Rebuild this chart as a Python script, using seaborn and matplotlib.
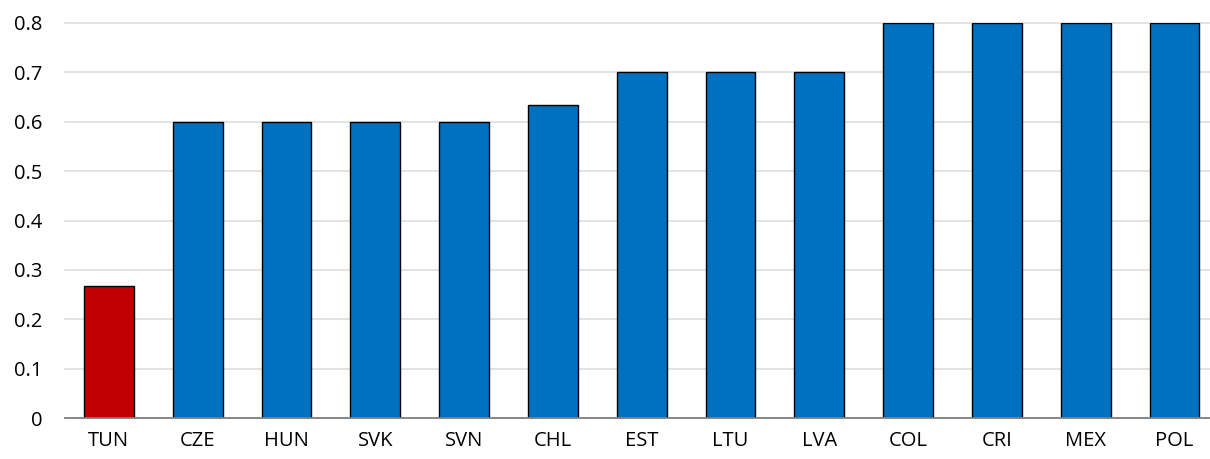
import pandas as pd
import seaborn as sns
import matplotlib.pyplot as plt

countries = ["TUN", "CZE", "HUN", "SVK", "SVN", "CHL", "EST", "LTU", "LVA",
             "COL", "CRI", "MEX", "POL"]
values = [0.267, 0.6, 0.6, 0.6, 0.6, 0.633, 0.7, 0.7, 0.7, 0.8, 0.8, 0.8, 0.8]
highlight = "TUN"


def main():
    df = pd.DataFrame({"country": countries, "value": values})
    palette = {c: ("#C00000" if c == highlight else "#0070C0") for c in countries}

    sns.set_style("white")
    plt.rcParams['font.family'] = ['Open Sans', 'DejaVu Sans']

    fig = plt.figure(figsize=(12.1, 4.59), dpi=100)
    ax = fig.add_axes([64.5 / 1210, 41 / 459, 1 - 64.5 / 1210, 395 / 459])

    sns.barplot(data=df, x="country", y="value", hue="country", palette=palette,
                order=countries, width=0.56, edgecolor="black", linewidth=1,
                legend=False, ax=ax, saturation=1)

    ax.set_ylim(0, 0.8)
    ax.set_xlim(-0.5, 12.4)
    ax.set_yticks([0, 0.1, 0.2, 0.3, 0.4, 0.5, 0.6, 0.7, 0.8])
    ax.set_yticklabels(["0", "0.1", "0.2", "0.3", "0.4", "0.5", "0.6", "0.7", "0.8"])
    ax.yaxis.grid(True, color="#E0E0E0", linewidth=1.3)
    for line in ax.get_ygridlines():
        line.set_clip_on(False)
    ax.set_axisbelow(True)

    for side in ["left", "right", "top"]:
        ax.spines[side].set_visible(False)
    ax.spines["bottom"].set_color("#808080")
    ax.spines["bottom"].set_linewidth(1.3)

    ax.tick_params(axis="both", length=0, labelsize=14.5, colors="black")
    ax.tick_params(axis="y", pad=16)
    ax.tick_params(axis="x", pad=9)
    ax.set_xlabel("")
    ax.set_ylabel("")

    fig.savefig("out.png", dpi=100)
    plt.close(fig)


if __name__ == '__main__':
    main()
